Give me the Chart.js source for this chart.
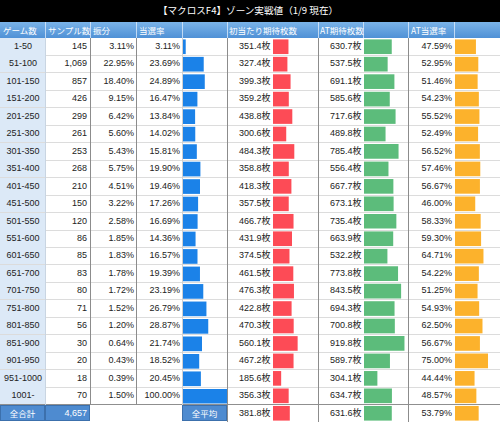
<!DOCTYPE html>
<html><head><meta charset="utf-8">
<script src="https://cdn.jsdelivr.net/npm/chart.js@4.4.1/dist/chart.umd.min.js"></script>
<style>
html,body{margin:0;padding:0;background:#fff;}
#wrap{position:relative;width:500px;height:424px;overflow:hidden;background:#fff;font-family:"Liberation Sans","Noto Sans CJK JP",sans-serif;}
.c{position:absolute;box-sizing:border-box;white-space:nowrap;font-size:9px;color:#222;overflow:visible;}
.ln{position:absolute;}
canvas{display:block;}
</style></head><body><div id="wrap"></div>
<script>
const title = "【マクロスF4】ゾーン実戦値（1/9 現在）";
const headers = ["ゲーム数","サンプル数","振分","当選率","初当たり期待枚数","AT期待枚数","AT当選率"];
const games = ["1-50","51-100","101-150","151-200","201-250","251-300","301-350","351-400","401-450","451-500","501-550","551-600","601-650","651-700","701-750","751-800","801-850","851-900","901-950","951-1000","1001-"];
const samples = [145,1069,857,426,299,261,253,268,210,150,120,86,85,83,80,71,56,30,20,18,70];
const shares = [3.11,22.95,18.40,9.15,6.42,5.60,5.43,5.75,4.51,3.22,2.58,1.85,1.83,1.78,1.72,1.52,1.20,0.64,0.43,0.39,1.50];
const hitRates = [3.11,23.69,24.89,16.47,13.84,14.02,15.81,19.90,19.46,17.26,16.69,14.36,16.57,19.39,23.19,26.79,28.87,21.74,18.52,20.45,100.00];
const firstHitMedals = [351.4,327.4,399.3,359.2,438.8,300.6,484.3,358.8,418.3,357.5,466.7,431.9,374.5,461.5,476.3,422.8,470.3,560.1,467.2,185.6,356.3];
const atMedals = [630.7,537.5,691.1,585.6,717.6,489.8,785.4,556.4,667.7,673.1,735.4,663.9,532.2,773.8,843.5,694.3,700.8,919.8,589.7,304.1,634.7];
const atRates = [47.59,52.95,51.46,54.23,55.52,52.49,56.52,57.46,56.67,46.00,58.33,59.30,64.71,54.22,51.25,54.93,62.50,56.67,75.00,44.44,48.57];
const totalLabel = "全合計";
const totalSamples = 4657;
const avgLabel = "全平均";
const avgFirstHit = 381.8;
const avgAt = 631.6;
const avgAtRate = 53.79;

const wrap = document.getElementById('wrap');
const TOP = 38, ROWS = 22, H = 384 / ROWS;
function el(cls, x, y, w, h, css, text) {
  const d = document.createElement('div');
  d.className = cls;
  d.style.left = x + 'px'; d.style.top = y + 'px';
  d.style.width = w + 'px'; d.style.height = h + 'px';
  if (css) Object.assign(d.style, css);
  if (text !== undefined) d.textContent = text;
  wrap.appendChild(d);
  return d;
}
function txt(x, y, w, h, text, align, css) {
  return el('c', x, y, w, h, Object.assign({lineHeight: h + 'px', textAlign: align}, css || {}), text);
}
// title
el('ln', 0, 0, 500, 21.5, {background: '#000'});
txt(0, 0, 500, 21, title, 'center', {color: '#fff', fontSize: '9.6px', fontFamily: '"Noto Sans CJK JP",sans-serif', left: '-2px'});
// header
el('ln', 0, 21.5, 500, 16.5, {background: 'linear-gradient(#7ab3e8,#4f91d6)'});
[45, 90, 136, 182, 227, 318, 363, 408, 454].forEach(x => el('ln', x, 21.5, 1, 16.5, {background: 'rgba(225,238,252,0.75)'}));
const hx = [3, 48, 93, 139, 229, 320, 411];
headers.forEach((t, i) => txt(hx[i], 21.5, 90, 16.5, t, 'left', {color: '#fff', fontSize: '8.5px', fontFamily: '"Noto Sans CJK JP",sans-serif'}));
// rows
const fmtInt = v => v.toLocaleString('en-US');
games.forEach((g, i) => {
  const y = TOP + i * H;
  el('ln', 0, y, 45, H, {background: '#dce9f7'});
  el('ln', 0, y + H - 0.5, 500, 1, {background: '#dcdcdc'});
  txt(0, y, 46, H, g, 'center');
  txt(45, y, 42, H, fmtInt(samples[i]), 'right');
  txt(90, y, 44, H, shares[i].toFixed(2) + '%', 'right');
  txt(136, y, 44, H, hitRates[i].toFixed(2) + '%', 'right');
  txt(227, y, 43.5, H, firstHitMedals[i].toFixed(1) + '枚', 'right');
  txt(318, y, 43.5, H, atMedals[i].toFixed(1) + '枚', 'right');
  txt(408, y, 44, H, atRates[i].toFixed(2) + '%', 'right');
});
// total row
const ty = TOP + 21 * H;
el('ln', 0, ty - 0.5, 500, 1.2, {background: '#8f8f8f'});
const blueCell = {background: '#4e8bd0', border: '1px solid #3c70ac', color: '#fff'};
txt(0, ty + 0.5, 45, H - 1, totalLabel, 'center', Object.assign({}, blueCell, {fontFamily: '"Noto Sans CJK JP",sans-serif', fontSize: '8.5px', lineHeight: (H - 3) + 'px'}));
txt(45, ty + 0.5, 45, H - 1, fmtInt(totalSamples), 'right', Object.assign({}, blueCell, {paddingRight: '2px', lineHeight: (H - 3) + 'px'}));
txt(182, ty + 0.5, 45, H - 1, avgLabel, 'center', Object.assign({}, blueCell, {fontFamily: '"Noto Sans CJK JP",sans-serif', fontSize: '8.5px', lineHeight: (H - 3) + 'px'}));
txt(227, ty, 43.5, H, avgFirstHit.toFixed(1) + '枚', 'right');
txt(318, ty, 43.5, H, avgAt.toFixed(1) + '枚', 'right');
txt(408, ty, 44, H, avgAtRate.toFixed(2) + '%', 'right');
// vertical lines
el('ln', 45, TOP, 1, 21 * H, {background: '#c9d5e2'});
el('ln', 90, TOP, 1, 21 * H, {background: '#8c8c8c'});
el('ln', 136, TOP, 1, 21 * H, {background: '#8c8c8c'});
el('ln', 182, TOP, 1, 21 * H, {background: '#d0d0d0'});
[227, 318, 408].forEach(x => el('ln', x, TOP, 1.2, ROWS * H, {background: '#8c8c8c'}));

// bar charts
function barChart(x, rows, values, max, color) {
  const w = 44, h = Math.round(rows * H);
  const box = el('ln', x, TOP, w, h, {zIndex: 5});
  const cv = document.createElement('canvas');
  cv.width = w; cv.height = h;
  cv.style.width = w + 'px'; cv.style.height = h + 'px';
  box.appendChild(cv);
  new Chart(cv, {
    type: 'bar',
    data: {labels: values.map((_, i) => String(i)), datasets: [{data: values, backgroundColor: color, borderWidth: 0, barPercentage: 0.84, categoryPercentage: 1}]},
    options: {
      indexAxis: 'y', responsive: false, animation: false,
      layout: {padding: 0},
      plugins: {legend: {display: false}, tooltip: {enabled: false}},
      scales: {
        x: {display: false, min: 0, max: max},
        y: {display: false, offset: true}
      }
    }
  });
}
barChart(183, 21, hitRates, 50.3, '#1b82e8');
barChart(273, 22, firstHitMedals.concat([avgFirstHit]), 1000, '#fd4b56');
barChart(364, 22, atMedals.concat([avgAt]), 1000, '#5cbc7b');
barChart(455, 22, atRates.concat([avgAtRate]), 100, '#fcb22c');
</script></body></html>
